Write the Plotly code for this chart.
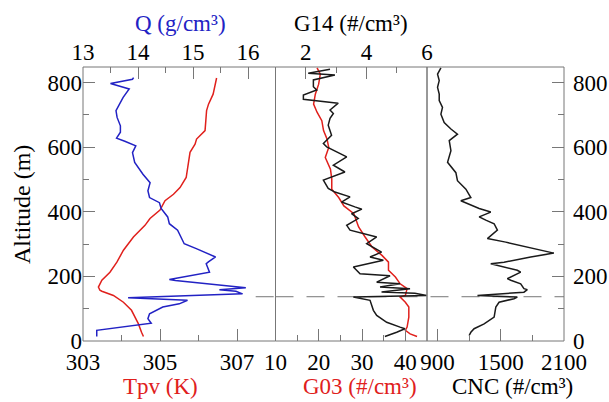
import plotly.graph_objects as go

# ---------------- data ----------------
alt_q = [815, 810, 797, 780, 754, 733, 713, 692, 666, 646, 628, 618, 604, 583, 553, 516, 490, 465, 444,
         428, 410, 384, 363, 343, 301, 286, 270, 260, 245, 239, 213, 190, 187, 165, 159, 154, 146, 134,
         126, 115, 105, 84, 69, 55, 33, 14]
q_vals = [13.92, 13.90, 13.50, 13.84, 13.73, 13.66, 13.60, 13.62, 13.68, 13.68, 13.61, 13.76, 13.96, 13.90,
          13.94, 14.09, 14.22, 14.18, 14.21, 14.39, 14.42, 14.54, 14.57, 14.72, 14.84, 15.06, 15.27, 15.41,
          15.28, 15.24, 15.30, 14.57, 14.68, 15.96, 15.48, 15.78, 15.90, 13.82, 14.90, 14.75, 14.45, 14.21,
          14.18, 14.24, 13.25, 13.25]

alt_t = [814, 790, 764, 733, 713, 682, 651, 625, 609, 584, 547, 506, 475, 454, 434, 413, 405, 379, 358,
         322, 281, 244, 213, 188, 167, 157, 154, 141, 120, 95, 53, 27, 14]
tpv_vals = [306.47, 306.43, 306.38, 306.26, 306.21, 306.19, 306.17, 305.95, 305.91, 305.78, 305.74, 305.68,
            305.52, 305.35, 305.13, 305.04, 305.00, 304.74, 304.61, 304.31, 304.05, 303.88, 303.70, 303.49,
            303.40, 303.44, 303.49, 303.79, 304.05, 304.26, 304.44, 304.52, 304.57]

alt_g14 = [841, 829, 823, 808, 787, 777, 761, 748, 736, 715, 704, 689, 668, 653, 637, 611, 601, 570, 544,
           523, 498, 472, 461, 446, 430, 415, 408, 394, 379, 358, 343, 322, 301, 275, 260, 250, 229, 208,
           202, 182, 177, 167, 162, 152, 148, 141, 136, 126, 110, 95, 79, 58, 43, 38, 27, 14]
g14_vals = [2.80, 2.08, 2.96, 2.25, 2.25, 2.36, 1.92, 1.92, 3.07, 2.80, 2.91, 2.80, 2.74, 2.80, 2.85, 2.58,
            2.69, 3.35, 2.91, 3.29, 2.58, 2.74, 2.96, 3.46, 3.18, 3.62, 3.85, 3.51, 3.73, 3.35, 3.46, 4.34,
            4.01, 4.50, 4.12, 4.56, 3.57, 3.79, 4.78, 4.34, 5.11, 4.45, 5.44, 4.50, 5.60, 5.99, 3.57, 4.12,
            4.17, 4.23, 4.34, 4.67, 5.11, 5.27, 5.00, 4.61]

alt_g03 = [845, 826, 795, 764, 733, 708, 682, 651, 625, 599, 568, 532, 501, 470, 444, 418, 394, 353, 322,
           291, 265, 244, 219, 198, 177, 162, 141, 136, 120, 105, 74, 43, 33, 22, 14]
g03_vals = [19.6, 20.35, 19.97, 19.2, 18.8, 19.6, 20.7, 21.1, 21.9, 22.3, 21.5, 22.7, 23.0, 23.0, 24.6, 25.8,
            28.1, 29.2, 30.7, 32.3, 34.6, 36.1, 36.1, 37.7, 38.8, 40.4, 40.0, 38.8, 40.0, 40.8, 40.8, 40.4,
            40.0, 41.1, 42.7]

alt_cnc = [845, 826, 806, 785, 764, 744, 723, 702, 676, 656, 640, 620, 589, 553, 521, 496, 470, 444, 434,
           410, 399, 384, 374, 363, 343, 317, 306, 291, 272, 260, 244, 239, 219, 213, 193, 188, 177, 162,
           159, 151, 141, 136, 131, 120, 105, 74, 53, 38, 27, 17]
cnc_vals = [932, 900, 916, 900, 916, 916, 947, 932, 963, 1027, 1089, 1011, 1027, 995, 1074, 1089, 1169, 1216,
            1121, 1295, 1405, 1295, 1358, 1437, 1468, 1373, 1547, 1752, 2004, 1784, 1531, 1405, 1657, 1689,
            1562, 1595, 1689, 1720, 1752, 1720, 1279, 1657, 1626, 1484, 1453, 1437, 1342, 1247, 1216, 1200]

inversion_alt = 137

tpv_ticks = [303, 305, 307]
g03_ticks = [10, 20, 30, 40]
cnc_ticks = [900, 1500, 2100]
q_ticks = [13, 14, 15, 16]
g14_ticks = [2, 4, 6]
alt_ticks = [0, 200, 400, 600, 800]

# ---------------- style ----------------
BLUE = "#2222c4"
RED = "#e0201c"
BLACK = "#1a1a1a"
FRAME = "#777777"
FONT = "Liberation Serif"
FS = 23

W, H = 609, 402
L, R, T, B = 83, 45, 67, 61
pw = W - L - R
ph = H - T - B
d1 = [0, (275.5 - L) / pw]
d2 = [d1[1], (427 - L) / pw]
d3 = [d2[1], 1]

fig = go.Figure()
fig.add_trace(go.Scatter(x=q_vals, y=alt_q, xaxis="x4", yaxis="y", mode="lines",
                         line=dict(color=BLUE, width=1.5), showlegend=False))
fig.add_trace(go.Scatter(x=tpv_vals, y=alt_t, xaxis="x", yaxis="y", mode="lines",
                         line=dict(color=RED, width=1.5), showlegend=False))
fig.add_trace(go.Scatter(x=g14_vals, y=alt_g14, xaxis="x5", yaxis="y", mode="lines",
                         line=dict(color=BLACK, width=1.5), showlegend=False))
fig.add_trace(go.Scatter(x=g03_vals, y=alt_g03, xaxis="x2", yaxis="y", mode="lines",
                         line=dict(color=RED, width=1.5), showlegend=False))
fig.add_trace(go.Scatter(x=cnc_vals, y=alt_cnc, xaxis="x3", yaxis="y", mode="lines",
                         line=dict(color=BLACK, width=1.5), showlegend=False))

tickfont = dict(family=FONT, size=FS, color="black")


def xax(domain, rng, ticks, minor_dtick, minor_tick0, side="bottom", overlay=None):
    d = dict(range=rng, tickvals=ticks, ticks="inside", ticklen=12, tickwidth=1, tickcolor=FRAME,
             showgrid=False, zeroline=False, showline=False, tickfont=tickfont, anchor="y", side=side,
             automargin=False, ticklabelstandoff=(5 if side == "bottom" else 1),
             minor=dict(ticks="inside", ticklen=6, tickcolor=FRAME, dtick=minor_dtick, tick0=minor_tick0,
                        showgrid=False))
    if overlay:
        d["overlaying"] = overlay
    else:
        d["domain"] = domain
    return d


yminor = dict(ticks="inside", ticklen=6, tickcolor=FRAME, dtick=100, tick0=0, showgrid=False)
fig.update_layout(
    width=W, height=H, margin=dict(l=L, r=R, t=T, b=B, autoexpand=False),
    plot_bgcolor="white", paper_bgcolor="white",
    xaxis=xax(d1, [303, 308], tpv_ticks, 1, 303),
    xaxis2=xax(d2, [10, 45], g03_ticks, 5, 10),
    xaxis3=xax(d3, [800, 2100], cnc_ticks, 300, 900),
    xaxis4=xax(d1, [13, 16.5], q_ticks, 0.5, 13, side="top", overlay="x"),
    xaxis5=xax(d2, [1, 6], g14_ticks, 1, 1, side="top", overlay="x2"),
    yaxis=dict(range=[0, 848], domain=[0, 1], anchor="x", tickvals=alt_ticks, ticks="inside", ticklen=12,
               tickcolor=FRAME, showgrid=False, zeroline=False, showline=False, tickfont=tickfont,
               automargin=False, minor=yminor),
    yaxis2=dict(range=[0, 848], overlaying="y", side="right", anchor="x3", tickvals=alt_ticks,
                ticks="inside", ticklen=12, tickcolor=FRAME, showgrid=False, zeroline=False,
                showline=False, tickfont=tickfont, automargin=False, ticklabelstandoff=8,
                minor=yminor),
)
fig.add_trace(go.Scatter(x=[None], y=[None], xaxis="x3", yaxis="y2", showlegend=False, hoverinfo="skip"))

shapes = []
for ref in ["x domain", "x2 domain", "x3 domain"]:
    shapes.append(dict(type="rect", xref=ref, yref="y domain", x0=0, x1=1, y0=0, y1=1,
                       line=dict(color=FRAME, width=1), layer="above"))
shapes.append(dict(type="line", xref="paper", yref="y", x0=d2[0], x1=1, y0=inversion_alt, y1=inversion_alt,
                   line=dict(color=FRAME, width=1, dash="18px,13px"), layer="below"))
shapes.append(dict(type="line", xref="x4", yref="y", x0=16.14, x1=16.5, y0=inversion_alt, y1=inversion_alt,
                   line=dict(color=FRAME, width=1, dash="18px,13px"), layer="below"))
fig.update_layout(shapes=shapes)

ann = [
    dict(text="Q (g/cm³)", x=180, y=24, color=BLUE),
    dict(text="G14 (#/cm³)", x=351, y=24, color="black"),
    dict(text="Tpv (K)", x=160, y=386, color=RED),
    dict(text="G03 (#/cm³)", x=360, y=386, color=RED),
    dict(text="CNC (#/cm³)", x=512, y=386, color="black"),
]
annotations = []
for a in ann:
    annotations.append(dict(text=a["text"], xref="paper", yref="paper",
                            x=(a["x"] - L) / pw, y=1 - (a["y"] - T) / ph,
                            xanchor="center", yanchor="middle", showarrow=False,
                            font=dict(family=FONT, size=FS, color=a["color"])))
annotations.append(dict(text="Altitude (m)", xref="paper", yref="paper",
                        x=(22 - L) / pw, y=1 - (205 - T) / ph, textangle=-90,
                        xanchor="center", yanchor="middle", showarrow=False,
                        font=dict(family=FONT, size=24, color="black")))
fig.update_layout(annotations=annotations)

fig.write_html("out.html", config={"displayModeBar": False},
               post_script="document.body.style.margin='0';document.body.style.padding='0';")
